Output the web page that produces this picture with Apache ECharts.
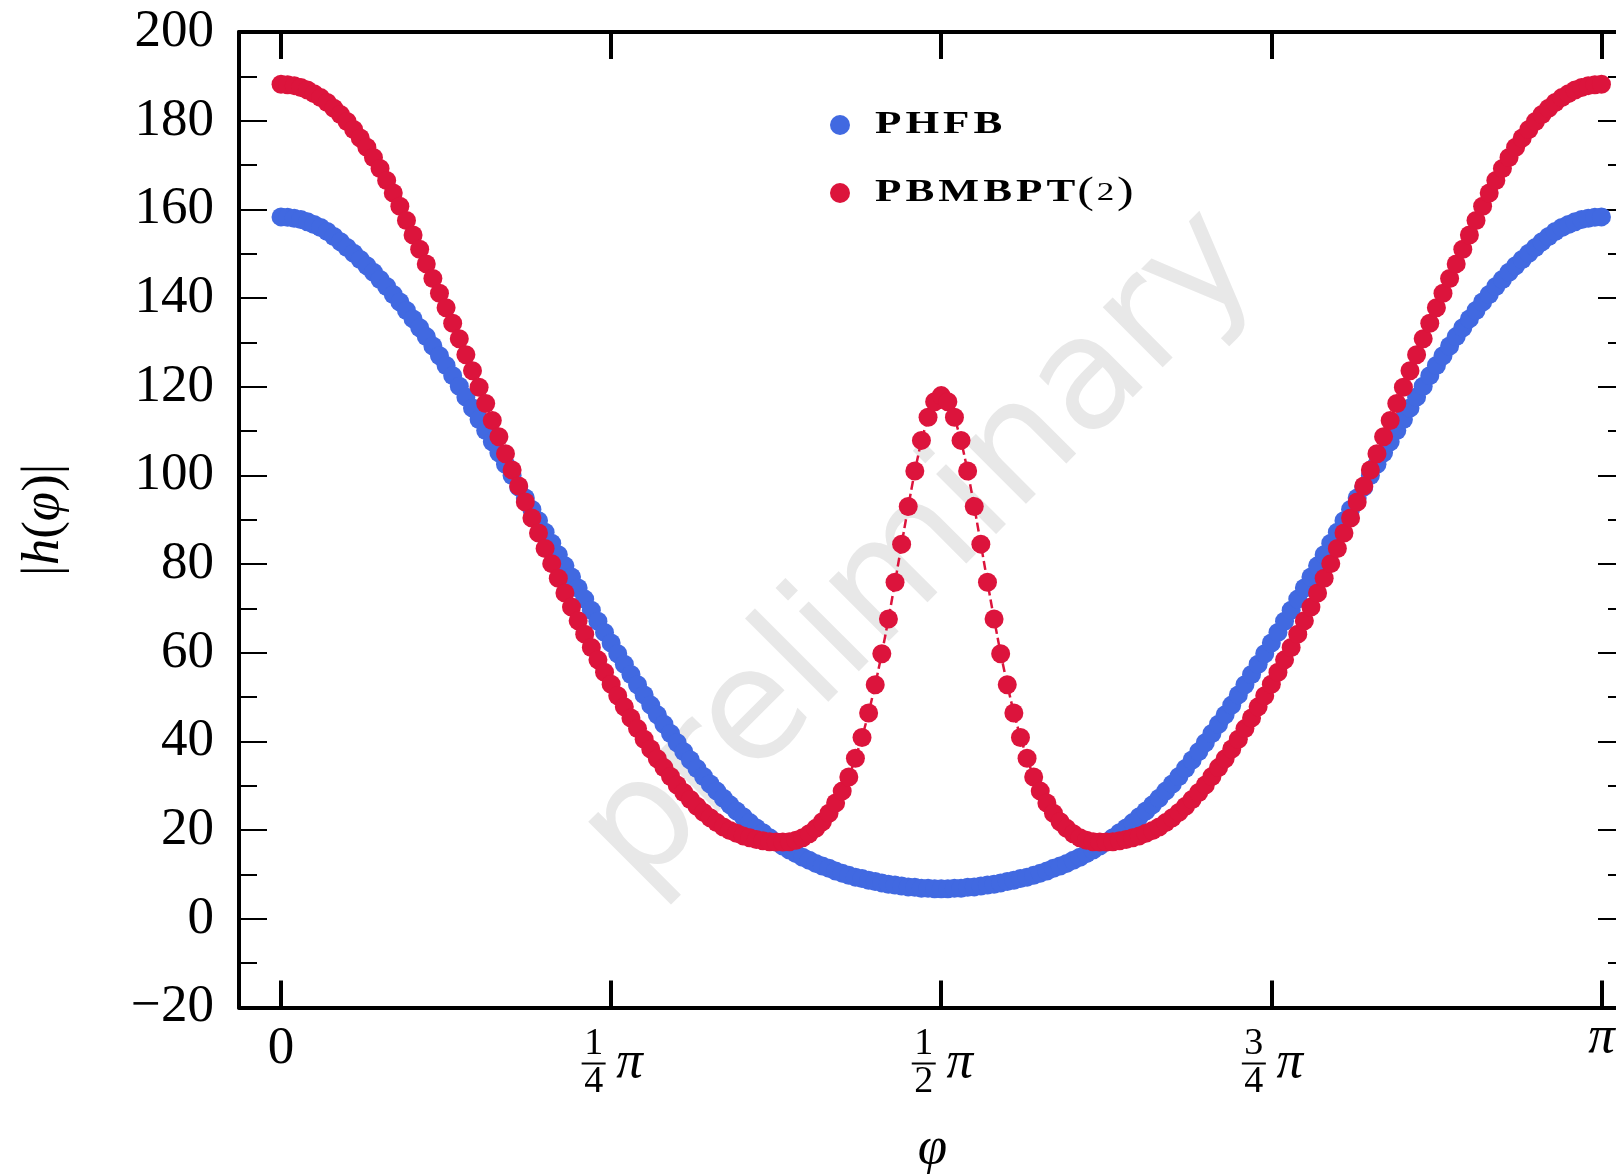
<!DOCTYPE html>
<html>
<head>
<meta charset="utf-8">
<title>|h(φ)| kernel</title>
<script src="https://cdn.jsdelivr.net/npm/echarts@6/dist/echarts.min.js"></script>
<style>
  html, body { margin: 0; padding: 0; background: #ffffff; }
  #chart { width: 1616px; height: 1175px; }
</style>
</head>
<body>
<div id="chart"></div>
<script>
// Gauge angle φ sampled on 201 points from 0 to π (step π/200).
const PHI_STEPS = 200;

// |h(φ)| for the projected HFB state
const phfb = [
  158.3, 158.2, 158.0, 157.7, 157.2, 156.6, 155.9, 155.0, 153.9, 152.7,
  151.4, 150.1, 148.7, 147.3, 145.8, 144.2, 142.6, 140.8, 139.1, 137.2,
  135.3, 133.3, 131.3, 129.2, 127.0, 124.8, 122.5, 120.1, 117.7, 115.2,
  112.6, 110.1, 107.6, 105.1, 102.5, 100.0, 97.4, 94.9, 92.3, 89.8,
  87.2, 84.7, 82.1, 79.6, 77.1, 74.6, 72.1, 69.6, 67.1, 64.6,
  62.2, 59.8, 57.4, 55.1, 52.8, 50.5, 48.2, 46.0, 43.9, 41.8,
  39.7, 37.7, 35.8, 33.9, 32.1, 30.4, 28.8, 27.2, 25.7, 24.3,
  23.0, 21.7, 20.5, 19.4, 18.3, 17.3, 16.4, 15.5, 14.7, 13.9,
  13.2, 12.5, 11.9, 11.4, 10.8, 10.3, 9.8, 9.4, 9.1, 8.7,
  8.4, 8.1, 7.8, 7.6, 7.4, 7.2, 7.1, 6.9, 6.9, 6.8,
  6.8,
  6.8, 6.9, 6.9, 7.1, 7.2, 7.4, 7.6, 7.8, 8.1, 8.4,
  8.7, 9.1, 9.4, 9.8, 10.3, 10.8, 11.4, 11.9, 12.5, 13.2,
  13.9, 14.7, 15.5, 16.4, 17.3, 18.3, 19.4, 20.5, 21.7, 23.0,
  24.3, 25.7, 27.2, 28.8, 30.4, 32.1, 33.9, 35.8, 37.7, 39.7,
  41.8, 43.9, 46.0, 48.2, 50.5, 52.8, 55.1, 57.4, 59.8, 62.2,
  64.6, 67.1, 69.6, 72.1, 74.6, 77.1, 79.6, 82.1, 84.7, 87.2,
  89.8, 92.3, 94.9, 97.4, 100.0, 102.5, 105.1, 107.6, 110.1, 112.6,
  115.2, 117.7, 120.1, 122.5, 124.8, 127.0, 129.2, 131.3, 133.3, 135.3,
  137.2, 139.1, 140.8, 142.6, 144.2, 145.8, 147.3, 148.7, 150.1, 151.4,
  152.7, 153.9, 155.0, 155.9, 156.6, 157.2, 157.7, 158.0, 158.2, 158.3
];

// |h(φ)| at second order of projected Bogoliubov MBPT
const pbmbpt2 = [
  188.2, 188.1, 187.9, 187.5, 186.9, 186.1, 185.2, 184.1, 182.8, 181.4,
  179.8, 178.0, 176.1, 174.0, 171.7, 169.2, 166.5, 163.7, 160.7, 157.5,
  154.2, 151.0, 147.7, 144.4, 141.1, 137.8, 134.3, 130.8, 127.2, 123.6,
  119.9, 116.2, 112.4, 108.7, 104.9, 101.2, 97.6, 94.0, 90.4, 87.0,
  83.5, 80.1, 76.8, 73.5, 70.3, 67.2, 64.2, 61.2, 58.4, 55.6,
  52.9, 50.3, 47.8, 45.3, 42.9, 40.5, 38.3, 36.1, 34.1, 32.1,
  30.2, 28.5, 26.9, 25.4, 24.0, 22.8, 21.7, 20.7, 19.9, 19.3,
  18.7, 18.3, 17.9, 17.6, 17.4, 17.3, 17.3, 17.4, 17.7, 18.3,
  19.2, 20.4, 21.9, 23.8, 26.1, 28.8, 32.0, 36.2, 40.9, 46.4,
  52.8, 59.8, 67.6, 75.9, 84.5, 93.0, 101.0, 107.9, 113.1, 116.6,
  118.0,
  116.6, 113.1, 107.9, 101.0, 93.0, 84.5, 75.9, 67.6, 59.8, 52.8,
  46.4, 40.9, 36.2, 32.0, 28.8, 26.1, 23.8, 21.9, 20.4, 19.2,
  18.3, 17.7, 17.4, 17.3, 17.3, 17.4, 17.6, 17.9, 18.3, 18.7,
  19.3, 19.9, 20.7, 21.7, 22.8, 24.0, 25.4, 26.9, 28.5, 30.2,
  32.1, 34.1, 36.1, 38.3, 40.5, 42.9, 45.3, 47.8, 50.3, 52.9,
  55.6, 58.4, 61.2, 64.2, 67.2, 70.3, 73.5, 76.8, 80.1, 83.5,
  87.0, 90.4, 94.0, 97.6, 101.2, 104.9, 108.7, 112.4, 116.2, 119.9,
  123.6, 127.2, 130.8, 134.3, 137.8, 141.1, 144.4, 147.7, 151.0, 154.2,
  157.5, 160.7, 163.7, 166.5, 169.2, 171.7, 174.0, 176.1, 178.0, 179.8,
  181.4, 182.8, 184.1, 185.2, 186.1, 186.9, 187.5, 187.9, 188.1, 188.2
];

const seriesNames = ['PHFB', 'PBMBPT(2)'];
const seriesColors = ['#4169E1', '#DC143C'];

// x ticks at multiples of π/4
const xTickValues = [0, Math.PI / 4, Math.PI / 2, 3 * Math.PI / 4, Math.PI];
const xTickLabels = ['0', '1/4π', '1/2π', '3/4π', 'π'];

const yMin = -20, yMax = 200, yStep = 20;
const xMin = -0.1, xMax = 3.2;

const SERIF = "'Liberation Serif', 'DejaVu Serif', serif";

function toPoints(values) {
  return values.map((v, i) => [i * Math.PI / PHI_STEPS, v]);
}

function xTickText(value) {
  let k = 0;
  xTickValues.forEach((v, i) => { if (Math.abs(v - value) < Math.abs(xTickValues[k] - value)) k = i; });
  const s = xTickLabels[k];
  const frac = s.match(/^(\d+)\/(\d+)π$/);
  if (frac) {
    return [
      '{lp| }{n|' + frac[1] + '}{g| }',
      '{lp| }{bar| }{sp| }{pi|π}',
      '{lp| }{n|' + frac[2] + '}{g| }'
    ].join('\n');
  }
  if (s === 'π') return '{pe|π}';
  return '{z|' + s + '}';
}

function yTickText(v) {
  return v < 0 ? '\u2212' + Math.abs(v) : String(v);
}

// key text: wide bold capitals followed by a plain "(2)"
function keyText(name) {
  let out = '';
  for (const ch of name) {
    if (/[A-Z]/.test(ch)) out += '{b|' + ch + '}';
    else if (/[0-9]/.test(ch)) out += '{s|' + ch + '}';
    else out += '{r|' + ch + '}';
  }
  return out;
}

// key: a dot and a horizontally widened label per series
const KEY_X = 840, KEY_Y0 = 125, KEY_DY = 68;
const keyElements = [];
seriesNames.forEach((name, s) => {
  const cy = KEY_Y0 + s * KEY_DY;
  keyElements.push({
    type: 'circle', z: 10, silent: true,
    shape: { cx: KEY_X, cy: cy, r: 10 },
    style: { fill: seriesColors[s] }
  });
  keyElements.push({
    type: 'text', z: 10, silent: true,
    x: KEY_X + 33, y: cy, scaleX: 1.35,
    style: {
      text: keyText(name),
      align: 'left',
      verticalAlign: 'middle',
      rich: {
        b: { fontFamily: SERIF, fontWeight: 'bold', fontSize: 32, lineHeight: 24, padding: [0, 1.5], fill: '#000' },
        r: { fontFamily: SERIF, fontSize: 37, lineHeight: 24, fill: '#000' },
        s: { fontFamily: SERIF, fontSize: 26, lineHeight: 24, padding: [0, 2], fill: '#000' }
      }
    }
  });
});

const tickStyleX = { color: '#000', width: 4 };
const tickStyleY = { color: '#000', width: 2 };
const frameLine = { show: true, onZero: false, lineStyle: { color: '#000', width: 4 } };

const chart = echarts.init(document.getElementById('chart'), null, { renderer: 'canvas' });

chart.setOption({
  animation: false,
  backgroundColor: '#ffffff',
  textStyle: { fontFamily: SERIF, color: '#000' },
  grid: {
    left: 239, top: 32, width: 1387, height: 975.5,
    containLabel: false,
    outerBoundsMode: 'none'
  },
  graphic: [{
    type: 'text',
    x: 922,
    y: 551,
    rotation: Math.PI / 4,
    z: 0,
    silent: true,
    style: {
      text: 'preliminary',
      fontFamily: "'DejaVu Sans', sans-serif",
      fontSize: 155,
      fill: '#e8e8e8',
      align: 'center',
      verticalAlign: 'middle'
    }
  }].concat(keyElements),
  xAxis: [{
    type: 'value',
    position: 'bottom',
    min: xMin,
    max: xMax,
    axisLine: frameLine,
    splitLine: { show: false },
    axisTick: { show: true, inside: true, length: 27, lineStyle: tickStyleX, customValues: xTickValues },
    axisLabel: {
      show: true,
      customValues: xTickValues,
      margin: 20,
      formatter: xTickText,
      color: '#000',
      rich: {
        z: { fontFamily: SERIF, fontSize: 53, lineHeight: 44, color: '#000' },
        pe: { fontFamily: SERIF, fontStyle: 'italic', fontSize: 53, lineHeight: 21, color: '#000' },
        lp: { width: 4, lineHeight: 4 },
        n: { fontFamily: SERIF, fontSize: 38, lineHeight: 34, width: 24, color: '#000' },
        g: { width: 39, lineHeight: 4 },
        bar: { width: 24, height: 2, lineHeight: 4, backgroundColor: '#000' },
        sp: { width: 9, lineHeight: 4 },
        pi: { fontFamily: SERIF, fontStyle: 'italic', fontSize: 53, lineHeight: 4, width: 30, color: '#000' }
      }
    },
    name: '{i|φ}',
    nameLocation: 'middle',
    nameGap: 112,
    nameTextStyle: {
      rich: { i: { fontFamily: SERIF, fontStyle: 'italic', fontSize: 53, lineHeight: 60, color: '#000' } }
    }
  }, {
    type: 'value',
    position: 'top',
    min: xMin,
    max: xMax,
    axisLine: frameLine,
    splitLine: { show: false },
    axisTick: { show: true, inside: true, length: 27, lineStyle: tickStyleX, customValues: xTickValues },
    axisLabel: { show: false }
  }],
  yAxis: [{
    type: 'value',
    position: 'left',
    min: yMin,
    max: yMax,
    interval: yStep,
    axisLine: frameLine,
    splitLine: { show: false },
    axisTick: { show: true, inside: true, length: 28, lineStyle: tickStyleY },
    minorTick: { show: true, splitNumber: 2, length: 18, lineStyle: tickStyleY },
    minorSplitLine: { show: false },
    axisLabel: { show: true, margin: 25, formatter: yTickText, fontFamily: SERIF, fontSize: 53, color: '#000' },
    name: '{u||}{i|h}{u|(}{i|φ}{u|)}{u||}',
    nameLocation: 'middle',
    nameRotate: 90,
    nameGap: 168,
    nameTextStyle: {
      rich: {
        u: { fontFamily: SERIF, fontSize: 53, color: '#000' },
        i: { fontFamily: SERIF, fontStyle: 'italic', fontSize: 53, color: '#000' }
      }
    }
  }, {
    type: 'value',
    position: 'right',
    min: yMin,
    max: yMax,
    interval: yStep,
    axisLine: frameLine,
    splitLine: { show: false },
    axisTick: { show: true, inside: true, length: 28, lineStyle: tickStyleY },
    minorTick: { show: true, splitNumber: 2, length: 18, lineStyle: tickStyleY },
    axisLabel: { show: false }
  }],
  series: [phfb, pbmbpt2].map((values, s) => ({
    name: seriesNames[s],
    type: 'line',
    xAxisIndex: 0,
    yAxisIndex: 0,
    data: toPoints(values),
    symbol: 'circle',
    symbolSize: 19,
    showSymbol: true,
    showAllSymbol: true,
    silent: true,
    z: 2 + s,
    itemStyle: { color: seriesColors[s], borderWidth: 0 },
    lineStyle: { color: seriesColors[s], width: 2.5, type: [9, 4] },
    emphasis: { disabled: true }
  }))
});
</script>
</body>
</html>
